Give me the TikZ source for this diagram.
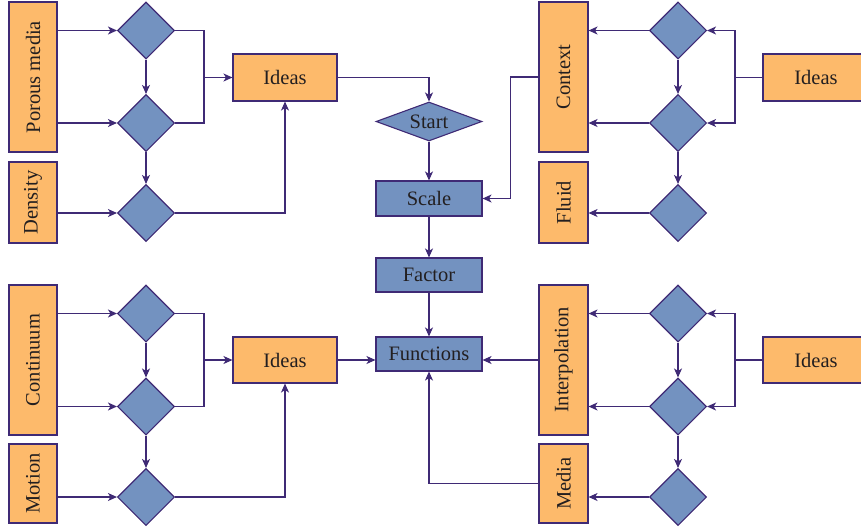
\documentclass[tikz,border=0pt]{standalone}
\usepackage{fontspec}
\setmainfont{Liberation Serif}
\usetikzlibrary{shapes.geometric,arrows.meta}
\definecolor{obox}{HTML}{FDBA6B}
\definecolor{bbox}{HTML}{7392C0}
\definecolor{lc}{HTML}{3F2A75}
\definecolor{tc}{HTML}{231F20}
\tikzset{
  ob/.style={draw=lc, line width=1.1pt, fill=obox, inner sep=0pt, text=tc, font=\fontsize{20.5}{24}\selectfont},
  bb/.style={draw=lc, line width=1.1pt, fill=bbox, inner sep=0pt, text=tc, font=\fontsize{20.5}{24}\selectfont},
  dia/.style={diamond, draw=lc, line width=1.1pt, fill=bbox, inner sep=0pt, minimum width=57pt, minimum height=57pt},
  ln/.style={draw=lc, line width=1.1pt},
  ar/.style={ln, -{Stealth[length=9pt,width=8pt,inset=2.5pt]}}
}
\begin{document}
\begin{tikzpicture}[x=1pt,y=-1pt]
\useasboundingbox (0,0) rectangle (861,531);
\clip (0,0) rectangle (861,531);
% ---------- top-left ----------
\node[ob, minimum width=48pt, minimum height=150pt] (pm) at (33,77) {\rotatebox{90}{Porous media}};
\node[ob, minimum width=48pt, minimum height=81pt] (den) at (33,202.5) {\rotatebox{90}{Density}};
\node[dia] (a1) at (146,30.5) {};
\node[dia] (a2) at (146,123) {};
\node[dia] (a3) at (146,213) {};
\node[ob, minimum width=104pt, minimum height=47pt] (i1) at (285,77.5) {Ideas};
\coordinate (j1) at (204,77.5);
\draw[ar] (pm.east |- a1) -- (a1.west);
\draw[ar] (pm.east |- a2) -- (a2.west);
\draw[ar] (den.east |- a3) -- (a3.west);
\draw[ar] (a1.south) -- (a2.north);
\draw[ar] (a2.south) -- (a3.north);
\draw[ln] (a1.east) -| (j1) |- (a2.east);
\draw[ar] (j1) -- (i1.west);
\draw[ar] (a3.east) -| (i1.south);
% ---------- centre ----------
\node[bb, diamond, minimum width=106pt, minimum height=39pt, shape aspect=2.7] (st) at (429,121.5) {Start};
\node[bb, minimum width=106pt, minimum height=35pt] (sc) at (429,198.5) {Scale};
\node[bb, minimum width=106pt, minimum height=34pt] (fa) at (429,275) {Factor};
\node[bb, minimum width=106pt, minimum height=34pt] (fn) at (429,354) {Functions};
\draw[ar] (i1.east) -| (st.north);
\draw[ar] (st.south) -- (sc.north);
\draw[ar] (sc.south) -- (fa.north);
\draw[ar] (fa.south) -- (fn.north);
% ---------- top-right ----------
\node[ob, minimum width=49pt, minimum height=150pt] (ctx) at (563.5,77) {\rotatebox{90}{Context}};
\node[ob, minimum width=49pt, minimum height=81pt] (fl) at (563.5,202.5) {\rotatebox{90}{Fluid}};
\node[dia] (b1) at (678,30.5) {};
\node[dia] (b2) at (678,123) {};
\node[dia] (b3) at (678,213) {};
\node[ob, minimum width=106pt, minimum height=47pt] (i2) at (816,77.5) {Ideas};
\coordinate (j2) at (735,77.5);
\draw[ar] (b1.west) -- (b1.west -| ctx.east);
\draw[ar] (b2.west) -- (b2.west -| ctx.east);
\draw[ar] (b3.west) -- (b3.west -| fl.east);
\draw[ar] (b1.south) -- (b2.north);
\draw[ar] (b2.south) -- (b3.north);
\draw[ln] (i2.west) -- (j2);
\draw[ar] (j2) |- (b1.east);
\draw[ar] (j2) |- (b2.east);
\draw[ar] (ctx.west) -- ++(-28,0) |- (sc.east);
% ---------- bottom-left ----------
\node[ob, minimum width=48pt, minimum height=150pt] (co) at (33,360) {\rotatebox{90}{Continuum}};
\node[ob, minimum width=48pt, minimum height=79pt] (mo) at (33,483.5) {\rotatebox{90}{Motion}};
\node[dia] (c1) at (146,313.5) {};
\node[dia] (c2) at (146,406.5) {};
\node[dia] (c3) at (146,497) {};
\node[ob, minimum width=104pt, minimum height=46pt] (i3) at (285,360) {Ideas};
\coordinate (j3) at (204,360);
\draw[ar] (co.east |- c1) -- (c1.west);
\draw[ar] (co.east |- c2) -- (c2.west);
\draw[ar] (mo.east |- c3) -- (c3.west);
\draw[ar] (c1.south) -- (c2.north);
\draw[ar] (c2.south) -- (c3.north);
\draw[ln] (c1.east) -| (j3) |- (c2.east);
\draw[ar] (j3) -- (i3.west);
\draw[ar] (c3.east) -| (i3.south);
\draw[ar] (i3.east) -- (i3.east -| fn.west);
% ---------- bottom-right ----------
\node[ob, minimum width=49pt, minimum height=150pt] (ip) at (563.5,360) {\rotatebox{90}{Interpolation}};
\node[ob, minimum width=49pt, minimum height=79pt] (md) at (563.5,483.5) {\rotatebox{90}{Media}};
\node[dia] (e1) at (678,313.5) {};
\node[dia] (e2) at (678,406.5) {};
\node[dia] (e3) at (678,497) {};
\node[ob, minimum width=106pt, minimum height=46pt] (i4) at (816,360) {Ideas};
\coordinate (j4) at (735,360);
\draw[ar] (e1.west) -- (e1.west -| ip.east);
\draw[ar] (e2.west) -- (e2.west -| ip.east);
\draw[ar] (e3.west) -- (e3.west -| md.east);
\draw[ar] (e1.south) -- (e2.north);
\draw[ar] (e2.south) -- (e3.north);
\draw[ln] (i4.west) -- (j4);
\draw[ar] (j4) |- (e1.east);
\draw[ar] (j4) |- (e2.east);
\draw[ar] (ip.west) -- (ip.west -| fn.east);
\draw[ar] (md.west) -| (fn.south);
\end{tikzpicture}
\end{document}
